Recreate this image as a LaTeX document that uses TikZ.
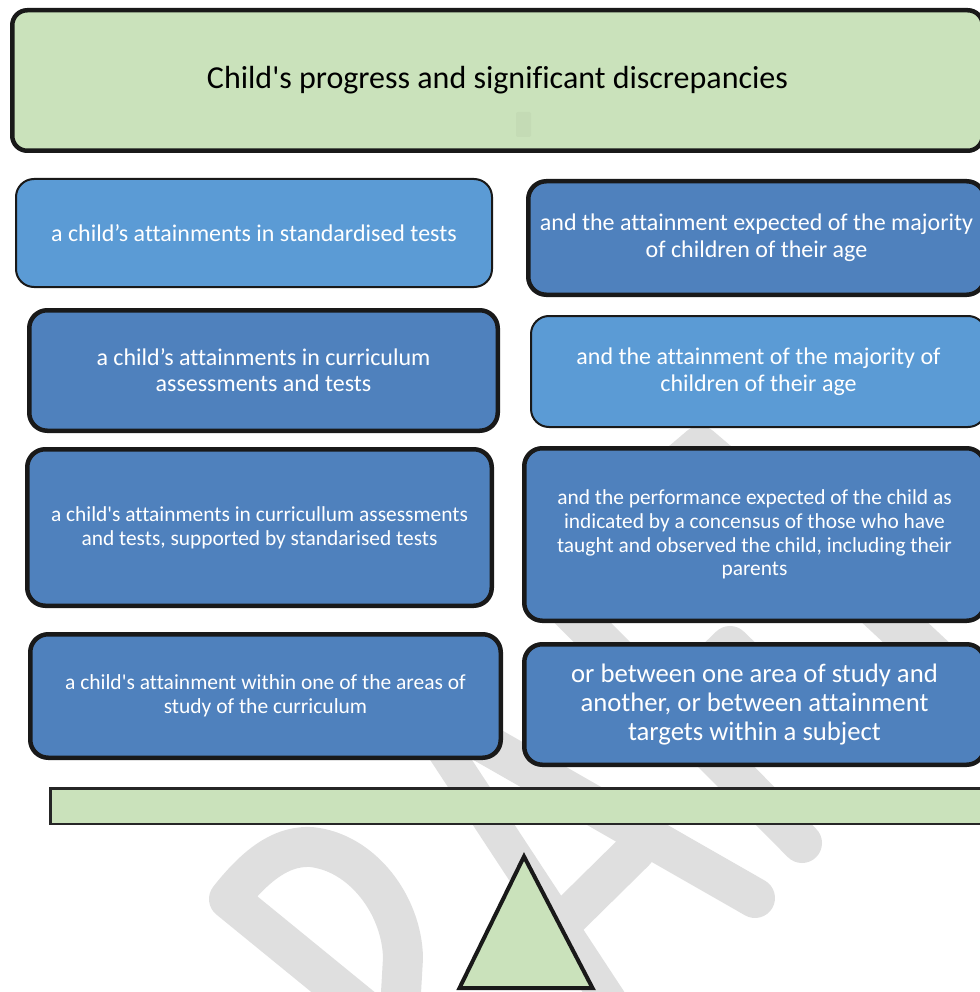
\documentclass[tikz,border=0pt]{standalone}
\usepackage{fontspec}
\newfontfamily\boxfont{Carlito}[Ligatures=NoCommon]
\definecolor{sagegreen}{RGB}{202,226,187}
\definecolor{skyblue}{RGB}{91,155,213}
\definecolor{steelblue}{RGB}{79,129,189}
\definecolor{stampgray}{RGB}{223,223,223}

\begin{document}
\begin{tikzpicture}[x=1pt, y=-1pt,
    box/.style={draw=black!90, rounded corners=18pt, text=white, align=center, inner sep=0pt},
    pale/.style={box, line width=2pt, fill=skyblue},
    deep/.style={box, line width=4.5pt, fill=steelblue},
    stamp/.style={stampgray, line width=40pt, line cap=round, line join=round}]
    \useasboundingbox (0,0) rectangle (979,992);
    % Watermark strokes
    \draw[stamp] (365,1010) -- (229,899) .. controls (262,857) and (287,846) .. (311,847) .. controls (362,852) and (402,905) .. (403,958) -- (400,1010);
    \draw[stamp, line width=35pt] (415,705) -- (612,1005);
    \draw[stamp] (470,735) -- (755,898);
    \draw[stamp] (635,851) -- (568,917);
    \draw[stamp] (560,600) -- (802,843);
    \draw[stamp] (660,480) -- (700,446) -- (740,480);
    \draw[stamp] (695,680) -- (730,646) -- (765,680);
    \draw[stamp, line width=45pt] (860,590) -- (1010,730);
    % Heading
    \node[draw=black!90, line width=4.5pt, rounded corners=15pt, fill=sagegreen, inner sep=0pt,
          minimum width=970.5pt, minimum height=140.5pt, font=\boxfont\fontsize{32}{38}\selectfont]
          (heading) at (497.5,80.5) {Child's progress and significant discrepancies};
    \fill[sagegreen!97!black, rounded corners=2pt] (516,112) rectangle (531,137);
    % Left column
    \node[pale, minimum width=476pt, minimum height=108pt, font=\boxfont\fontsize{24}{26}\selectfont]
          (stdtests) at (254,233) {a child’s attainments in standardised tests};
    \node[deep, minimum width=468.5pt, minimum height=120.5pt, font=\boxfont\fontsize{24}{26}\selectfont]
          (currtests) at (263.5,370.5) {a child’s attainments in curriculum\\assessments and tests};
    \node[deep, minimum width=464.5pt, minimum height=156.5pt, font=\boxfont\fontsize{21.4}{24}\selectfont]
          (supported) at (259.5,527.5) {a child's attainments in curricullum assessments\\and tests, supported by standarised tests};
    \node[deep, minimum width=470.5pt, minimum height=123.5pt, font=\boxfont\fontsize{21.5}{24}\selectfont]
          (areas) at (265.5,696) {a child's attainment within one of the areas of\\study of the curriculum};
    % Right column
    \node[deep, minimum width=456.5pt, minimum height=113.5pt, font=\boxfont\fontsize{24}{27}\selectfont]
          (expected) at (756.5,238) {and the attainment expected of the majority\\of children of their age};
    \node[pale, minimum width=455pt, minimum height=111pt, font=\boxfont\fontsize{24}{27}\selectfont]
          (majority) at (758.5,371.5) {and the attainment of the majority of\\children of their age};
    \node[deep, minimum width=460.5pt, minimum height=172.5pt, font=\boxfont\fontsize{21.4}{23.7}\selectfont]
          (consensus) at (754.5,534.5) {and the performance expected of the child as\\indicated by a concensus of those who have\\taught and observed the child, including their\\parents};
    \node[deep, minimum width=460.5pt, minimum height=120.5pt, font=\boxfont\fontsize{26.7}{29}\selectfont]
          (subject) at (754.5,704.5) {or between one area of study and\\another, or between attainment\\targets within a subject};
    % Balance beam and pivot
    \node[draw=black!85, line width=2.5pt, fill=sagegreen, inner sep=0pt, minimum width=940pt,
          minimum height=35.5pt] (beam) at (520.25,806) {};
    \coordinate (apex) at (524,856.5);
    \coordinate (baseL) at (459.5,988);
    \coordinate (baseR) at (592.5,988);
    \draw[black!90, line width=4pt, fill=sagegreen] (apex) -- (baseR) -- (baseL) -- cycle;
\end{tikzpicture}
\end{document}
